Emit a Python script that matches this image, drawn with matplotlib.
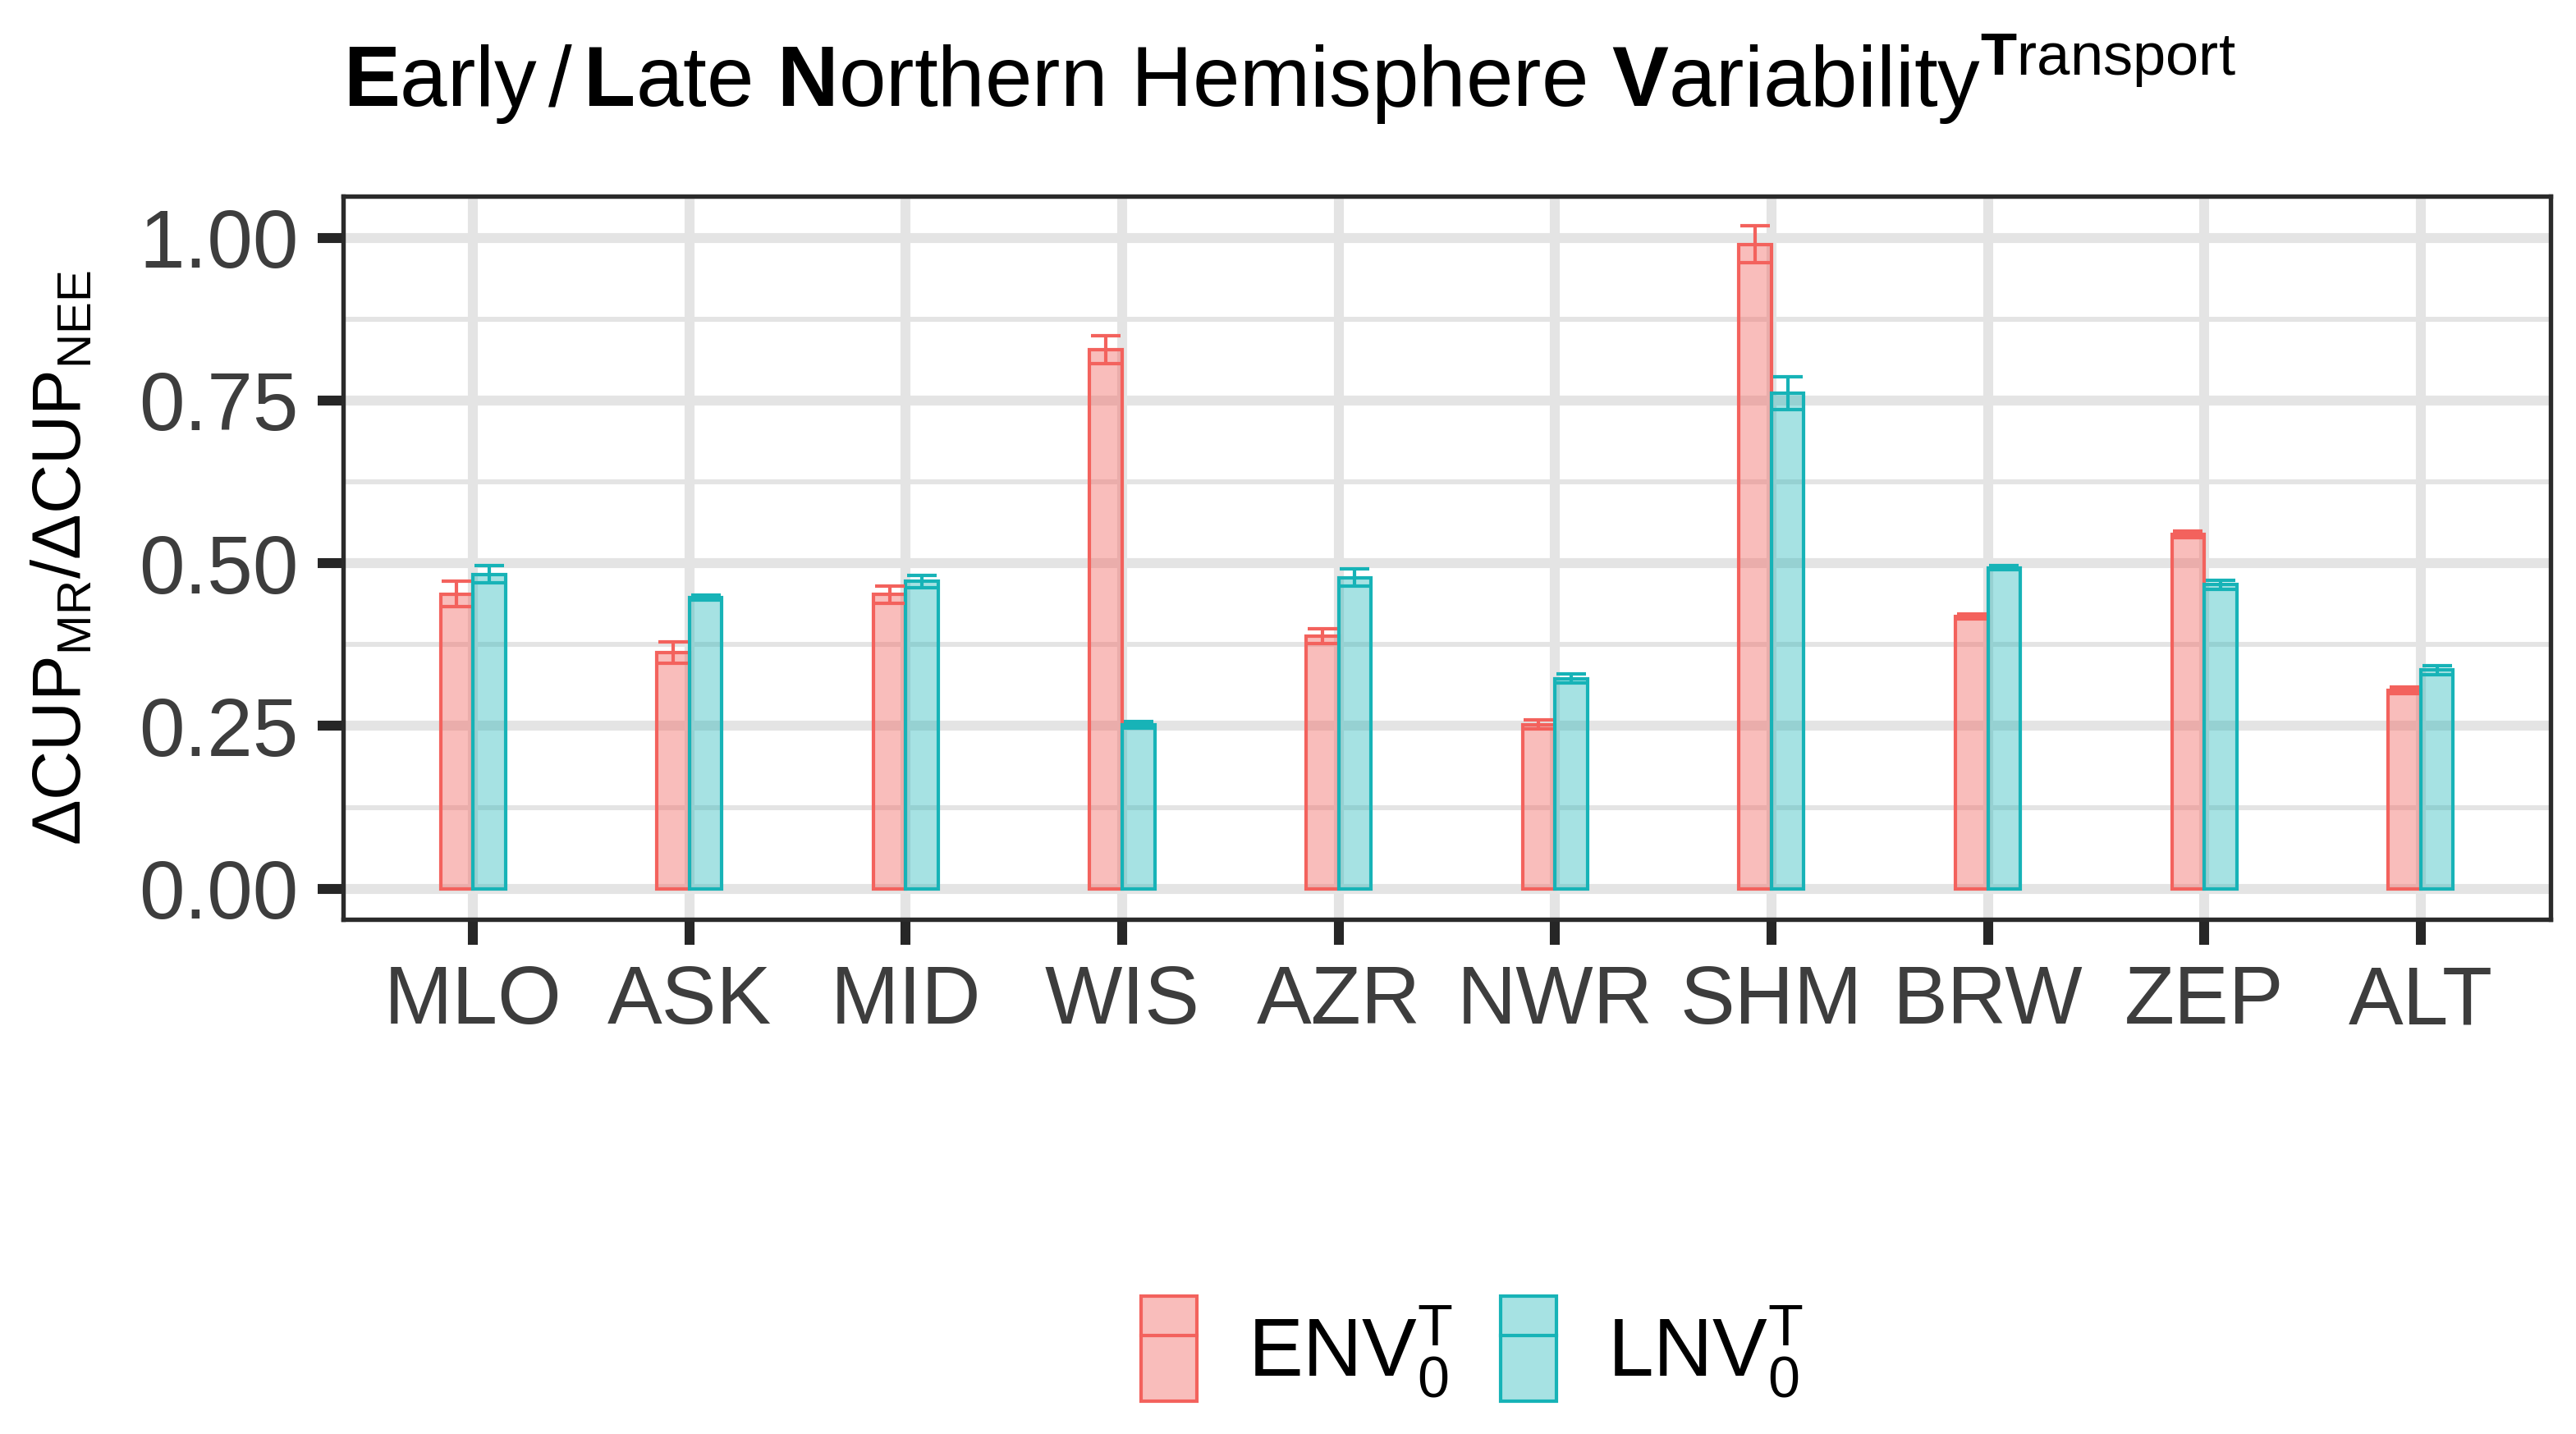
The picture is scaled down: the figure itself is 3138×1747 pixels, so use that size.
import matplotlib
matplotlib.use('Agg')
import matplotlib.pyplot as plt
import numpy as np
from matplotlib.colors import to_rgba
from matplotlib.patches import Patch
from matplotlib.lines import Line2D
from matplotlib.ticker import MultipleLocator

# data
sites = ['MLO', 'ASK', 'MID', 'WIS', 'AZR', 'NWR', 'SHM', 'BRW', 'ZEP', 'ALT']
env = [0.453, 0.363, 0.452, 0.828, 0.388, 0.252, 0.990, 0.418, 0.544, 0.305]
env_err = [0.020, 0.016, 0.013, 0.021, 0.011, 0.007, 0.028, 0.004, 0.005, 0.005]
lnv = [0.483, 0.447, 0.472, 0.252, 0.478, 0.323, 0.761, 0.493, 0.467, 0.336]
lnv_err = [0.013, 0.004, 0.010, 0.005, 0.013, 0.007, 0.025, 0.003, 0.007, 0.007]

series_labels = [r'$\mathrm{ENV}_{0}^{\mathrm{T}}$', r'$\mathrm{LNV}_{0}^{\mathrm{T}}$']
red = '#F3625D'
teal = '#17B3B7'

plt.rcParams['font.family'] = ['Liberation Sans', 'DejaVu Sans']
plt.rcParams['mathtext.fontset'] = 'custom'
plt.rcParams['mathtext.rm'] = 'Liberation Sans'
plt.rcParams['mathtext.bf'] = 'Liberation Sans:bold'
plt.rcParams['mathtext.it'] = 'Liberation Sans:italic'

fig = plt.figure(figsize=(3138 / 300, 1747 / 300), dpi=300)
ax = fig.add_axes([0.1332, 0.3589, 0.9901 - 0.1332, 0.8632 - 0.3589])

x = np.arange(len(sites))
w = 0.15

# bars
ax.bar(x - w / 2, env, width=w, color=to_rgba(red, 0.42), edgecolor=red, linewidth=1.0, zorder=2)
ax.bar(x + w / 2, lnv, width=w, color=to_rgba(teal, 0.38), edgecolor=teal, linewidth=1.0, zorder=2)
# error bars
ax.errorbar(x - w / 2, env, yerr=env_err, fmt='none', ecolor=red, elinewidth=1.0,
            capsize=4.3, capthick=1.0, zorder=3)
ax.errorbar(x + w / 2, lnv, yerr=lnv_err, fmt='none', ecolor=teal, elinewidth=1.0,
            capsize=4.3, capthick=1.0, zorder=3)

ax.set_xlim(-0.6, len(sites) - 0.4)
ax.set_ylim(-0.047, 1.064)
ax.set_xticks(x)
ax.set_xticklabels(sites)
ax.yaxis.set_major_locator(MultipleLocator(0.25))
ax.yaxis.set_minor_locator(MultipleLocator(0.125))
ax.yaxis.set_major_formatter(matplotlib.ticker.FormatStrFormatter('%.2f'))

# grid like theme_bw
ax.set_axisbelow(True)
ax.grid(True, which='major', color='#E4E4E4', linewidth=2.9)
ax.grid(True, which='minor', axis='y', color='#E4E4E4', linewidth=1.45)
ax.tick_params(which='minor', length=0)
ax.tick_params(which='major', length=7.4, width=2.9, color='#262626',
               labelsize=24, labelcolor='#3D3D3D', pad=5.6)
for s in ax.spines.values():
    s.set_color('#2A2A2A')
    s.set_linewidth(1.3)
    s.set_zorder(4)

# labels
fig.text(0.0245, (0.3589 + 0.8632) / 2,
         r'$\Delta\mathrm{CUP}_{\mathrm{MR}}/\Delta\mathrm{CUP}_{\mathrm{NEE}}$',
         rotation=90, ha='center', va='center', fontsize=20, color='black')
fig.text(418 / 3138, 1 - 130 / 1747,
         r'$\mathbf{E}\mathrm{arly}\,/\,\mathbf{L}\mathrm{ate}\ \mathbf{N}\mathrm{orthern\ Hemisphere}\ '
         r'\mathbf{V}\mathrm{ariability}^{\mathbf{T}\mathrm{ransport}}$',
         ha='left', va='baseline', fontsize=24.8, color='black')

# legend
handles = [
    (Patch(facecolor=to_rgba(red, 0.42), edgecolor=red, linewidth=1.0), Line2D([], [], color=red, lw=1.0)),
    (Patch(facecolor=to_rgba(teal, 0.38), edgecolor=teal, linewidth=1.0), Line2D([], [], color=teal, lw=1.0)),
]
fig.legend(handles, series_labels, loc='center', bbox_to_anchor=(0.5715, 0.0595), ncol=2,
           frameon=False, fontsize=24, handlelength=0.68, handleheight=1.6,
           handletextpad=0.62, columnspacing=0.58, borderaxespad=0, borderpad=0)

fig.savefig('out.png', dpi=300)
